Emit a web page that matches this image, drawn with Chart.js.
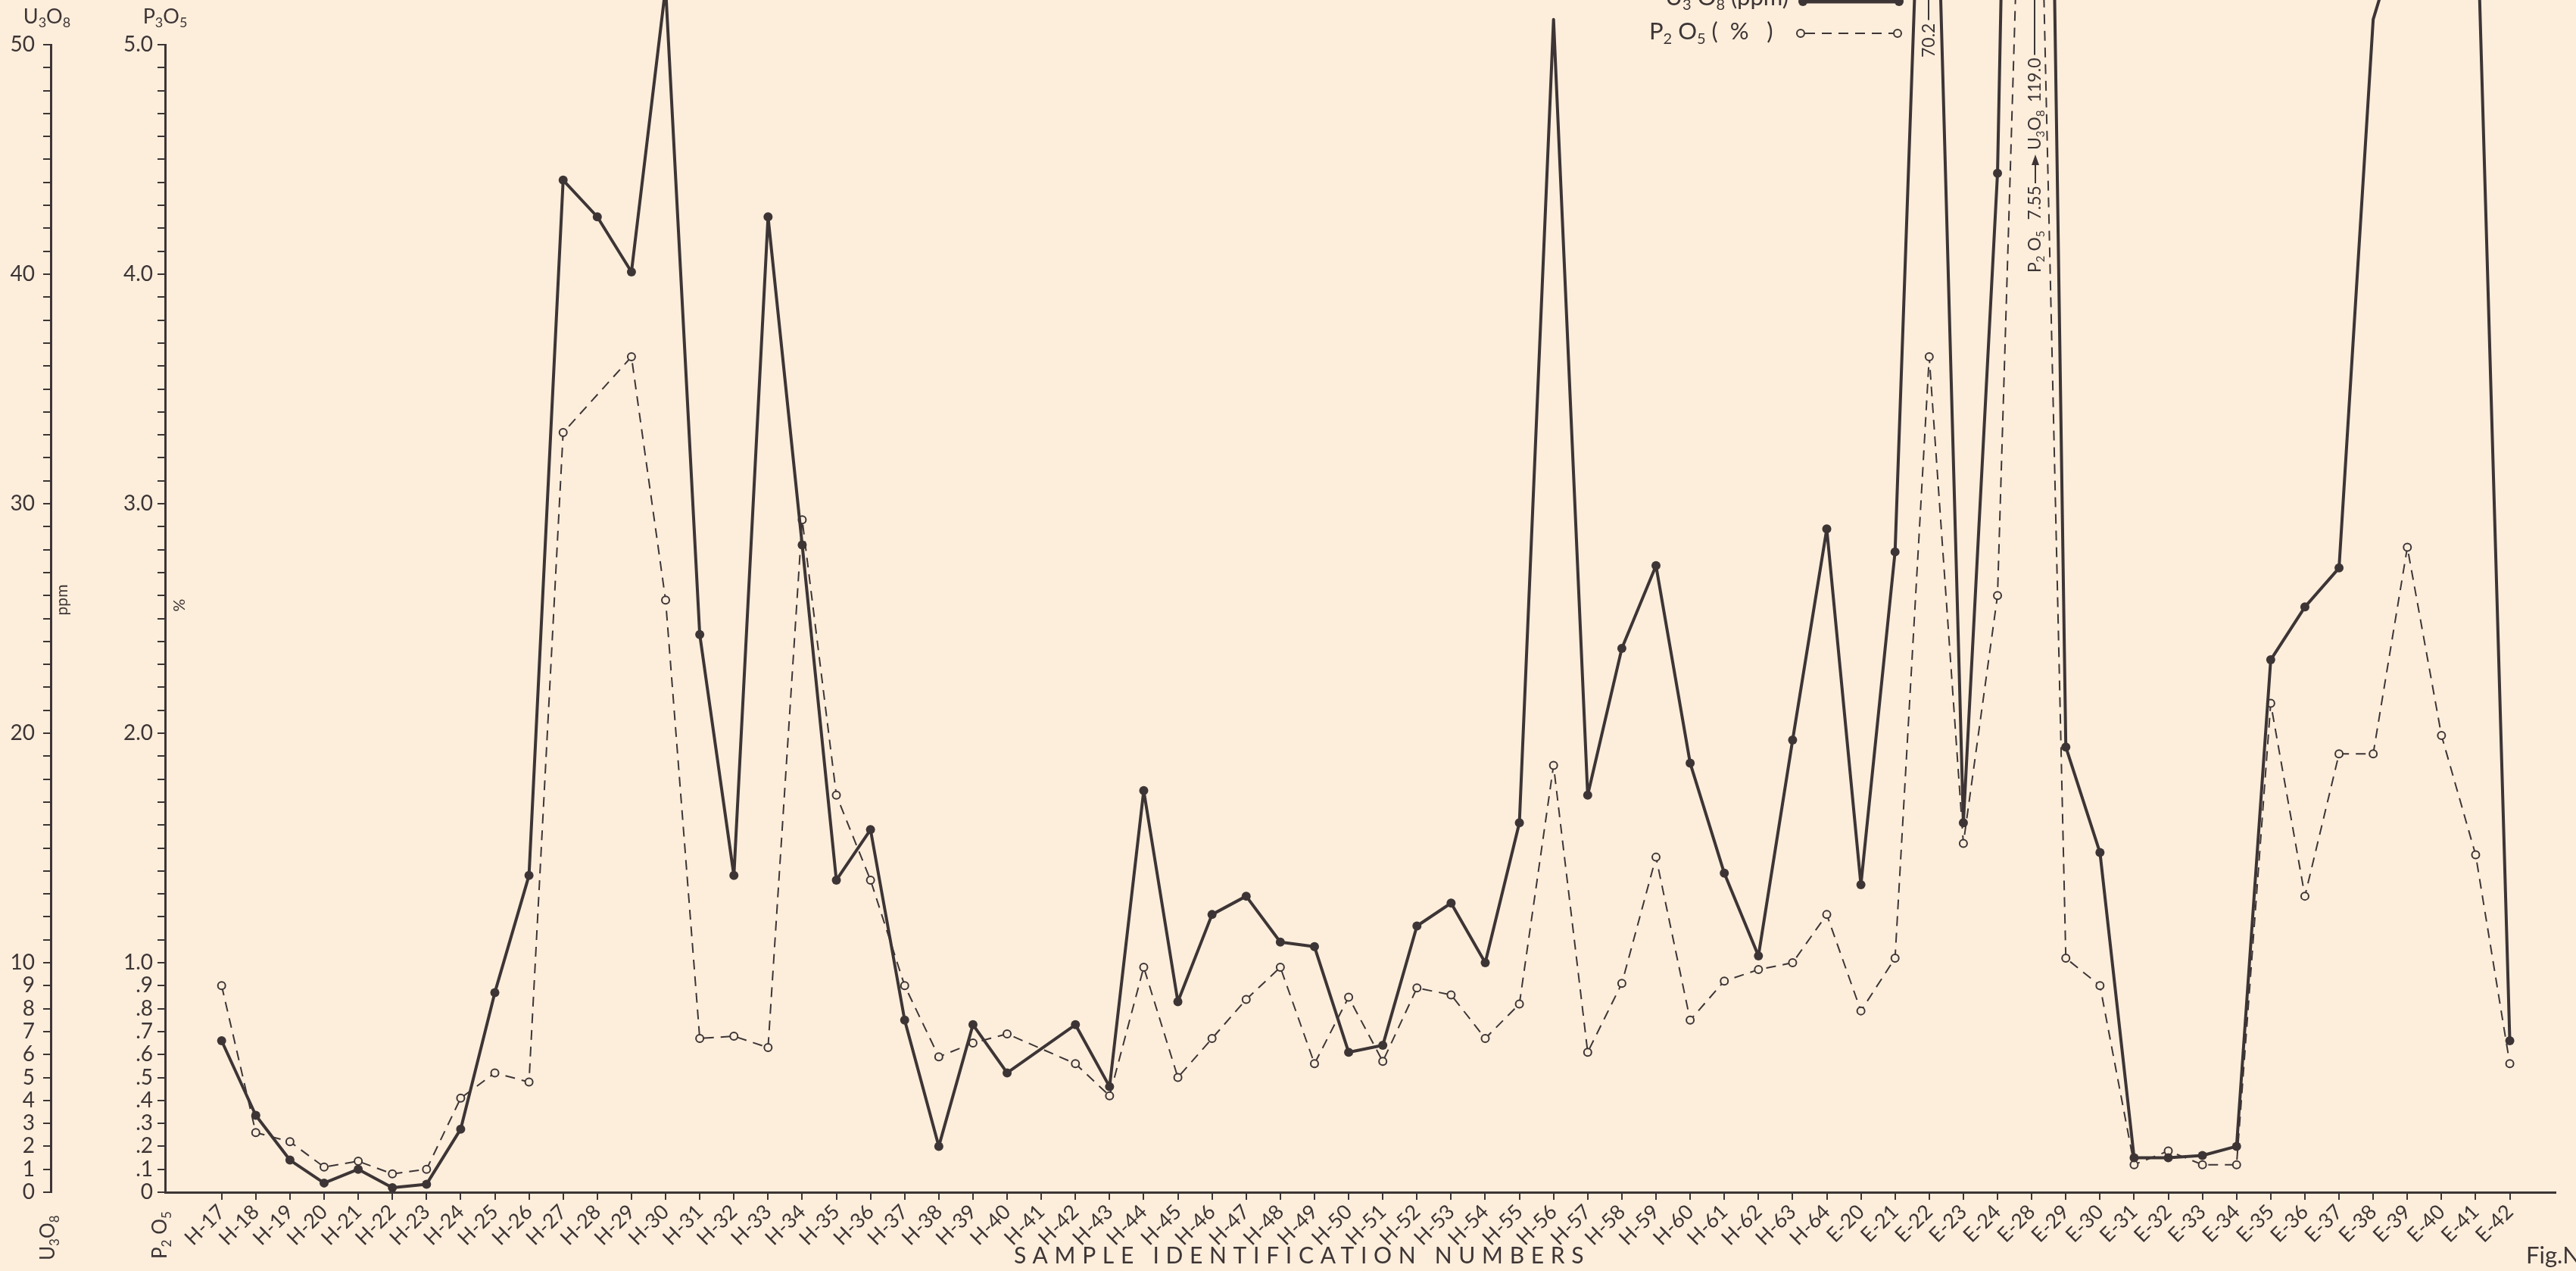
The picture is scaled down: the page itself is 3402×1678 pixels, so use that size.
<!DOCTYPE html>
<html>
<head>
<meta charset="utf-8">
<script src="https://cdn.jsdelivr.net/npm/chart.js@4.4.0/dist/chart.umd.min.js"></script>
<style>
  html, body { margin:0; padding:0; background:#fdeedc; }
  #wrap { width:3402px; height:1678px; overflow:hidden; }
  canvas { display:block; }
</style>
</head>
<body>
<div id="wrap"><canvas id="chart" width="3402" height="1678"></canvas></div>
<script>
// ---------------- data ----------------
const samples = [
  'H-17','H-18','H-19','H-20','H-21','H-22','H-23','H-24','H-25','H-26',
  'H-27','H-28','H-29','H-30','H-31','H-32','H-33','H-34','H-35','H-36',
  'H-37','H-38','H-39','H-40','H-41','H-42','H-43','H-44','H-45','H-46',
  'H-47','H-48','H-49','H-50','H-51','H-52','H-53','H-54','H-55','H-56',
  'H-57','H-58','H-59','H-60','H-61','H-62','H-63','H-64',
  'E-20','E-21','E-22','E-23','E-24','E-28','E-29','E-30','E-31','E-32',
  'E-33','E-34','E-35','E-36','E-37','E-38','E-39','E-40','E-41','E-42'
];

// U3O8, ppm (null = no point plotted)
const u3o8 = [
  6.6, 3.35, 1.4, 0.4, 1.0, 0.2, 0.35, 2.75, 8.7, 13.8,
  44.1, 42.5, 40.1, 52.5, 24.3, 13.8, 42.5, 28.2, 13.6, 15.8,
  7.5, 2.0, 7.3, 5.2, null, 7.3, 4.6, 17.5, 8.3, 12.1,
  12.9, 10.9, 10.7, 6.1, 6.4, 11.6, 12.6, 10.0, 16.1, 51.1,
  17.3, 23.7, 27.3, 18.7, 13.9, 10.3, 19.7, 28.9,
  13.4, 27.9, 70.2, 16.1, 44.4, 119.0, 19.4, 14.8, 1.5, 1.5,
  1.6, 2.0, 23.2, 25.5, 27.2, 51.1, 56, 60, 58, 6.6
];

// P2O5, %
const p2o5 = [
  0.90, 0.26, 0.22, 0.11, 0.135, 0.08, 0.10, 0.41, 0.52, 0.48,
  3.31, null, 3.64, 2.58, 0.67, 0.68, 0.63, 2.93, 1.73, 1.36,
  0.90, 0.59, 0.65, 0.69, null, 0.56, 0.42, 0.98, 0.50, 0.67,
  0.84, 0.98, 0.56, 0.85, 0.57, 0.89, 0.86, 0.67, 0.82, 1.86,
  0.61, 0.91, 1.46, 0.75, 0.92, 0.97, 1.00, 1.21,
  0.79, 1.02, 3.64, 1.52, 2.60, 7.55, 1.02, 0.90, 0.12, 0.18,
  0.12, 0.12, 2.13, 1.29, 1.91, 1.91, 2.81, 1.99, 1.47, 0.56
];

// labelled ticks on the two left axes (same positions, ppm and %)
const uTicks = [0, 1, 2, 3, 4, 5, 6, 7, 8, 9, 10, 20, 30, 40, 50];
const pTicks = ['0', '.1', '.2', '.3', '.4', '.5', '.6', '.7', '.8', '.9', '1.0', '2.0', '3.0', '4.0', '5.0'];

// ---------------- style ----------------
const ink = '#3d3535';
const paper = '#fdeedc';
const FAMILY = 'Lato, "DejaVu Sans", sans-serif';

function setFont(ctx, size) { ctx.font = size + 'px ' + FAMILY; }

// text with subscripts: parts = [[text, isSub], ...]
function chem(ctx, parts, x, y, size, rot, align) {
  const sub = Math.round(size * 0.66);
  let w = 0;
  parts.forEach(p => { setFont(ctx, p[1] ? sub : size); w += ctx.measureText(p[0]).width; });
  ctx.save();
  ctx.translate(x, y);
  ctx.rotate(rot * Math.PI / 180);
  ctx.textBaseline = 'middle';
  ctx.textAlign = 'left';
  let cx = align === 'center' ? -w / 2 : align === 'right' ? -w : 0;
  parts.forEach(p => {
    setFont(ctx, p[1] ? sub : size);
    ctx.fillText(p[0], cx, p[1] ? size * 0.32 : 0);
    cx += ctx.measureText(p[0]).width;
  });
  ctx.restore();
  return w;
}

const U3O8 = [['U', 0], ['3', 1], ['O', 0], ['8', 1]];
const P2O5 = [['P', 0], ['2', 1], [' O', 0], ['5', 1]];

// ---------------- extra texts / legend ----------------
const decor = {
  id: 'decor',
  afterDraw(chart) {
    const ctx = chart.ctx;
    ctx.save();
    ctx.fillStyle = ink;
    ctx.strokeStyle = ink;

    // axis headers
    chem(ctx, U3O8, 62, 22, 27, 0, 'center');
    chem(ctx, [['P', 0], ['3', 1], ['O', 0], ['5', 1]], 218, 22, 27, 0, 'center');
    chem(ctx, U3O8, 64, 1664, 26, -90, 'left');
    chem(ctx, P2O5, 212, 1662, 26, -90, 'left');

    // unit labels
    setFont(ctx, 21);
    ctx.textAlign = 'center'; ctx.textBaseline = 'middle';
    ctx.save(); ctx.translate(82, 792); ctx.rotate(-Math.PI / 2); ctx.fillText('ppm', 0, 0); ctx.restore();
    ctx.save(); ctx.translate(237, 799); ctx.rotate(-Math.PI / 2); ctx.fillText('%', 0, 0); ctx.restore();

    // x title
    setFont(ctx, 30);
    const title = 'SAMPLE IDENTIFICATION NUMBERS';
    ctx.letterSpacing = '0px';
    const w0 = ctx.measureText(title).width;
    ctx.letterSpacing = ((752 - w0) / (title.length - 1)).toFixed(1) + 'px';
    ctx.textAlign = 'left';
    ctx.fillText(title, 1339, 1658);
    ctx.letterSpacing = '0px';
    setFont(ctx, 31);
    ctx.fillText('Fig.No.', 3336, 1658);

    // legend
    chem(ctx, [['U', 0], ['3', 1], [' O', 0], ['8', 1], [' (ppm)', 0]], 2362, -3, 31, 0, 'right');
    chem(ctx, [['P', 0], ['2', 1], [' O', 0], ['5', 1], [' (  %   )', 0]], 2178, 42, 31, 0, 'left');
    ctx.lineWidth = 5;
    ctx.beginPath(); ctx.moveTo(2381, 2); ctx.lineTo(2508, 2); ctx.stroke();
    [2381, 2508].forEach(x => { ctx.beginPath(); ctx.arc(x, 2, 6, 0, Math.PI * 2); ctx.fill(); });
    ctx.lineWidth = 2;
    ctx.setLineDash([13, 9]);
    ctx.beginPath(); ctx.moveTo(2384, 44); ctx.lineTo(2500, 44); ctx.stroke();
    ctx.setLineDash([]);
    [2378, 2506].forEach(x => {
      ctx.beginPath(); ctx.arc(x, 44, 5, 0, Math.PI * 2);
      ctx.fillStyle = paper; ctx.fill(); ctx.stroke(); ctx.fillStyle = ink;
    });

    // off-scale notes
    ctx.lineWidth = 2;
    setFont(ctx, 23);
    ctx.save(); ctx.translate(2548, 76); ctx.rotate(-Math.PI / 2);
    ctx.textAlign = 'left'; ctx.textBaseline = 'middle';
    const w702 = ctx.measureText('70.2').width;
    ctx.fillText('70.2', 0, 0);
    ctx.beginPath(); ctx.moveTo(w702 + 4, -1); ctx.lineTo(w702 + 60, -1); ctx.stroke();
    ctx.restore();

    ctx.save(); ctx.translate(2688, 360); ctx.rotate(-Math.PI / 2);
    let p = 0;
    p += chem(ctx, P2O5, p, 0, 23, 0, 'left') + 14;
    setFont(ctx, 23); ctx.textAlign = 'left'; ctx.textBaseline = 'middle';
    ctx.fillText('7.55', p, 0); p += ctx.measureText('7.55').width + 3;
    ctx.beginPath(); ctx.moveTo(p, 0); ctx.lineTo(p + 26, 0); ctx.stroke();
    ctx.beginPath(); ctx.moveTo(p + 38, 0); ctx.lineTo(p + 24, -5); ctx.lineTo(p + 24, 5); ctx.closePath(); ctx.fill();
    p += 44;
    p += chem(ctx, U3O8, p, 0, 23, 0, 'left') + 10;
    setFont(ctx, 23); ctx.textAlign = 'left'; ctx.textBaseline = 'middle';
    ctx.fillText('119.0', p, 0); p += ctx.measureText('119.0').width + 4;
    ctx.beginPath(); ctx.moveTo(p, -1); ctx.lineTo(p + 120, -1); ctx.stroke();
    ctx.restore();

    ctx.restore();
  }
};

// ---------------- chart ----------------
const tickFont = { family: FAMILY, size: 28 };
const xTickFont = { family: FAMILY, size: 27 };

new Chart(document.getElementById('chart'), {
  type: 'line',
  data: {
    datasets: [
      {
        label: 'U3O8 (ppm)', yAxisID: 'yU',
        data: u3o8.map((v, i) => ({ x: i, y: v })),
        borderColor: ink, borderWidth: 4, tension: 0, borderJoinStyle: 'round',
        pointRadius: 6, pointBackgroundColor: ink, pointBorderWidth: 0,
        spanGaps: true, clip: false
      },
      {
        label: 'P2O5 (%)', yAxisID: 'yP',
        data: p2o5.map((v, i) => ({ x: i, y: v })),
        borderColor: ink, borderWidth: 2, borderDash: [13, 9], tension: 0, borderJoinStyle: 'round',
        pointRadius: 5, pointBackgroundColor: paper, pointBorderColor: ink, pointBorderWidth: 2,
        spanGaps: true, clip: false
      }
    ]
  },
  options: {
    responsive: false, animation: false, devicePixelRatio: 1,
    layout: { padding: { left: 0, right: 27, top: 59, bottom: 0 } },
    plugins: { legend: { display: false }, tooltip: { enabled: false } },
    scales: {
      x: {
        type: 'linear', position: 'bottom', min: -1.656, max: 68.34,
        afterBuildTicks: s => { s.ticks = samples.map((_, i) => ({ value: i })); },
        afterFit: s => { s.height = 104; },
        ticks: {
          autoSkip: false, maxRotation: 45, minRotation: 45, padding: 0,
          color: ink, font: xTickFont,
          callback: v => samples[v] ?? ''
        },
        grid: { drawOnChartArea: false, color: ink, lineWidth: 2, tickLength: 10 },
        border: { color: ink, width: 3 }
      },
      yU: {
        type: 'linear', position: 'left', weight: 2, min: 0, max: 50,
        afterBuildTicks: s => { s.ticks = Array.from({ length: 51 }, (_, i) => ({ value: i })); },
        afterFit: s => { s.width = 67; },
        ticks: {
          autoSkip: false, padding: 11, color: ink, font: tickFont,
          callback: v => uTicks.includes(v) ? String(v) : ''
        },
        grid: { drawOnChartArea: false, color: ink, lineWidth: 2, tickLength: 10 },
        border: { color: ink, width: 3 }
      },
      yP: {
        type: 'linear', position: 'left', weight: 1, min: 0, max: 5,
        afterBuildTicks: s => { s.ticks = Array.from({ length: 51 }, (_, i) => ({ value: i / 10 })); },
        afterFit: s => { s.width = 151; },
        ticks: {
          autoSkip: false, padding: 6, color: ink, font: tickFont,
          callback: v => {
            const k = uTicks.indexOf(Math.round(v * 10));
            return k >= 0 ? pTicks[k] : '';
          }
        },
        grid: { drawOnChartArea: false, color: ink, lineWidth: 2, tickLength: 10 },
        border: { color: ink, width: 3 }
      }
    }
  },
  plugins: [decor]
});
</script>
</body>
</html>
